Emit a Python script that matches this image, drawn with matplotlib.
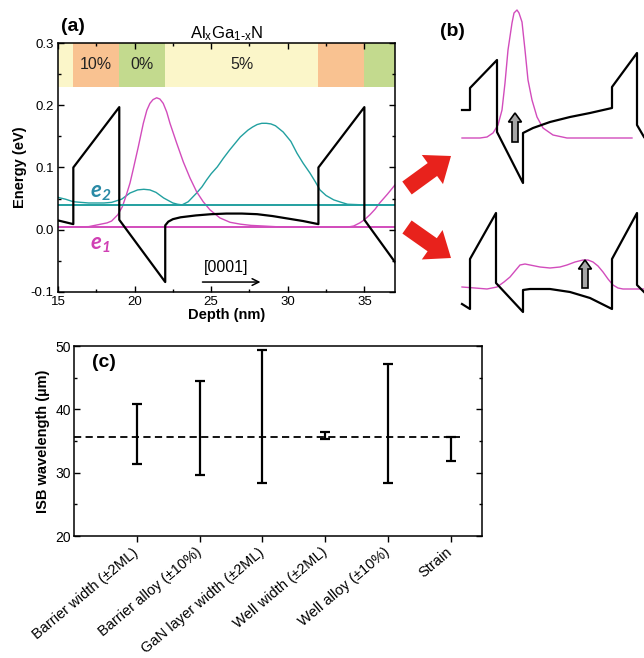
import matplotlib
matplotlib.use('Agg')
import matplotlib.pyplot as plt
from matplotlib.patches import FancyArrow
from matplotlib.ticker import MultipleLocator, FormatStrFormatter

plt.rcParams['font.family'] = ['Liberation Sans', 'DejaVu Sans']
plt.rcParams['axes.unicode_minus'] = False
plt.rcParams['mathtext.default'] = 'regular'
plt.rcParams['axes.linewidth'] = 1.1

# ---- panel (a): conduction band profile and wavefunctions ----
band_edges = [15, 16, 19, 22, 32, 35, 37]
band_colors = ['#fbf6c9', '#f9c291', '#c3da8e', '#fbf6c9', '#f9c291', '#c3da8e']
band_labels = ['', '10%', '0%', '5%', '', '']

cb_depth = [15.0, 16.0, 16.0, 19.0, 19.0, 22.0, 22.0, 22.2, 22.5, 23.0, 24.0, 25.0,
            26.0, 27.0, 28.0, 29.0, 30.0, 31.0, 32.0, 32.0, 35.0, 35.0, 37.0]
cb_energy = [0.015, 0.009, 0.100, 0.197, 0.016, -0.084, 0.007, 0.013, 0.017, 0.020,
             0.023, 0.025, 0.026, 0.026, 0.025, 0.022, 0.018, 0.014, 0.009, 0.100,
             0.197, 0.016, -0.052]

e1_level = 0.004
e2_level = 0.039

psi2_depth = [15.0, 15.5, 16.0, 17.0, 18.0, 18.5, 19.15, 19.7, 20.2, 20.6, 21.0, 21.4,
              21.9, 22.5, 22.8, 23.1, 23.5, 24.05, 24.4, 24.7, 25.0, 25.4, 25.8, 26.2,
              26.6, 26.9, 27.4, 27.7, 28.0, 28.3, 28.6, 28.9, 29.2, 29.5, 29.7, 30.0,
              30.2, 30.6, 31.0, 31.45, 31.8, 32.1, 32.5, 33.0, 33.5, 33.9, 34.9, 37.0]
psi2_energy = [0.052, 0.049, 0.045, 0.043, 0.043, 0.044, 0.049, 0.059, 0.064, 0.065,
               0.064, 0.060, 0.051, 0.043, 0.041, 0.040, 0.045, 0.059, 0.069, 0.080,
               0.090, 0.101, 0.115, 0.128, 0.140, 0.149, 0.160, 0.165, 0.169, 0.171,
               0.171, 0.170, 0.167, 0.161, 0.157, 0.148, 0.142, 0.123, 0.107, 0.091,
               0.077, 0.064, 0.055, 0.048, 0.044, 0.041, 0.040, 0.040]

psi1_depth = [15.0, 17.0, 17.6, 18.2, 18.5, 18.9, 19.2, 19.45, 19.7, 19.9, 20.24,
              20.57, 20.8, 21.0, 21.2, 21.44, 21.65, 21.87, 22.1, 22.31, 22.75, 23.18,
              23.62, 24.05, 24.48, 24.92, 25.57, 26.23, 26.9, 27.6, 28.4, 29.9, 33.85,
              34.3, 34.7, 35.0, 35.36, 35.7, 36.0, 36.5, 37.0]
psi1_energy = [0.004, 0.005, 0.008, 0.011, 0.014, 0.024, 0.037, 0.055, 0.075, 0.096,
               0.133, 0.171, 0.192, 0.203, 0.209, 0.212, 0.210, 0.203, 0.189, 0.171,
               0.139, 0.109, 0.083, 0.061, 0.045, 0.032, 0.019, 0.012, 0.009, 0.007,
               0.006, 0.004, 0.004, 0.006, 0.011, 0.016, 0.024, 0.033, 0.043, 0.057,
               0.072]

# ---- panel (b): schematic band diagrams (arbitrary units) ----
b_top_cb_x = [67, 75, 75, 102, 102, 128, 128, 138, 155, 175, 195, 217, 217, 242, 242, 249]
b_top_cb_y = [210, 210, 232, 260, 188, 137, 187, 192, 198, 203, 207, 212, 233, 267, 195, 183]
b_top_psi_x = [67, 85, 92, 98, 103, 107, 110, 113, 117, 119, 122, 124, 127, 130, 133,
               137, 142, 148, 158, 172, 237]
b_top_psi_y = [182, 182, 183, 187, 195, 210, 237, 270, 297, 307, 310, 307, 298, 270,
               240, 220, 203, 192, 185, 182, 182]

b_bot_cb_x = [67, 75, 75, 101, 101, 128, 128, 135, 155, 175, 195, 217, 217, 242, 242, 249]
b_bot_cb_y = [16, 11, 61, 107, 37, 8, 30, 31, 31, 28, 22, 11, 61, 107, 35, 28]
b_bot_psi_x = [67, 80, 92, 102, 109, 115, 120, 125, 130, 135, 145, 155, 165, 172, 180,
               188, 193, 198, 203, 208, 213, 218, 223, 228, 249]
b_bot_psi_y = [33, 32, 31, 33, 38, 43, 49, 55, 56, 55, 53, 52, 53, 55, 58, 60, 60, 58,
               54, 48, 41, 35, 32, 31, 31]

# transition arrows (x, y_start, y_end) and red pointers (tail, tip)
b_transitions = [(120, 178, 207), (190, 32, 60)]
b_pointers = [((12, 132), (56, 164)), ((12, 93), (56, 62))]

# ---- panel (c): ISB wavelength sensitivity ----
params = ['Barrier width (\u00b12ML)', 'Barrier alloy (\u00b110%)', 'GaN layer width (\u00b12ML)',
          'Well width (\u00b12ML)', 'Well alloy (\u00b110%)', 'Strain']
isb_nominal = 35.7
isb_upper = [40.8, 44.4, 49.3, 36.4, 47.1, 35.7]
isb_lower = [31.3, 29.7, 28.4, 35.3, 28.4, 31.8]

W, H = 644, 658
fig = plt.figure(figsize=(W / 100, H / 100), dpi=100)

teal = '#22a0a0'
magenta = '#d24cbc'

ax = fig.add_axes([58 / W, 1 - 292 / H, 337 / W, 249 / H])
for i in range(len(band_colors)):
    ax.fill_between([band_edges[i], band_edges[i + 1]], 0.23, 0.3,
                    color=band_colors[i], lw=0, zorder=0)
    if band_labels[i]:
        ax.text((band_edges[i] + band_edges[i + 1]) / 2, 0.265, band_labels[i],
                ha='center', va='center', fontsize=11.5, color='#222222')

ax.plot(psi2_depth, psi2_energy, color=teal, lw=1.0, zorder=2)
ax.plot(psi1_depth, psi1_energy, color=magenta, lw=1.0, zorder=2)
ax.axhline(e2_level, color=teal, lw=1.4, zorder=2)
ax.axhline(e1_level, color=magenta, lw=1.4, zorder=2)
ax.plot(cb_depth, cb_energy, color='black', lw=1.6, zorder=3)

ax.text(17.1, 0.060, 'e$_2$', color='#2a8aa6', fontsize=16, fontweight='bold',
        fontstyle='italic', family=['Lato', 'DejaVu Sans'], va='center')
ax.text(17.1, -0.024, 'e$_1$', color='#d040b4', fontsize=16, fontweight='bold',
        fontstyle='italic', family=['Lato', 'DejaVu Sans'], va='center')

ax.text(26.0, -0.061, '[0001]', ha='center', va='center', fontsize=11.5)
ax.annotate('', xy=(28.4, -0.084), xytext=(24.25, -0.084),
            arrowprops=dict(arrowstyle='->', lw=1.1, color='black', mutation_scale=12))

ax.set_xlim(15, 37)
ax.set_ylim(-0.1, 0.3)
ax.xaxis.set_major_locator(MultipleLocator(5))
ax.xaxis.set_minor_locator(MultipleLocator(2.5))
ax.yaxis.set_major_locator(MultipleLocator(0.1))
ax.yaxis.set_minor_locator(MultipleLocator(0.05))
ax.yaxis.set_major_formatter(FormatStrFormatter('%.1f'))
ax.tick_params(which='both', direction='in', top=True, right=True, labelsize=9.5, pad=3)
ax.tick_params(which='major', length=4, width=1)
ax.tick_params(which='minor', length=2.5, width=1)
ax.set_xlabel('Depth (nm)', fontweight='bold', fontsize=10.5, labelpad=0)
ax.set_ylabel('Energy (eV)', fontweight='bold', fontsize=10.5, labelpad=3)
ax.set_title(r'Al$_x$Ga$_{1\text{-}x}$N', fontsize=12, pad=3)

# panel (b) sketches
axb = fig.add_axes([395 / W, 1 - 320 / H, 249 / W, 320 / H])
axb.set_xlim(0, 249)
axb.set_ylim(0, 320)
axb.axis('off')
axb.patch.set_alpha(0)
axb.plot(b_top_psi_x, b_top_psi_y, color=magenta, lw=1.0, clip_on=False)
axb.plot(b_bot_psi_x, b_bot_psi_y, color=magenta, lw=1.0, clip_on=False)
axb.plot(b_top_cb_x, b_top_cb_y, color='black', lw=1.6, clip_on=False)
axb.plot(b_bot_cb_x, b_bot_cb_y, color='black', lw=1.6, clip_on=False)
for x, y0, y1 in b_transitions:
    axb.add_patch(FancyArrow(x, y0, 0, y1 - y0, width=6, head_width=13, head_length=9,
                             length_includes_head=True, fc='#a6a6a6', ec='black', lw=1.2,
                             zorder=4))
for (x0, y0), (x1, y1) in b_pointers:
    axb.add_patch(FancyArrow(x0, y0, x1 - x0, y1 - y0, width=16, head_width=36,
                             head_length=23, length_includes_head=True, fc='#e8221c',
                             ec='none', zorder=4, clip_on=False))

fig.text(61 / W, 1 - 18 / H, '(a)', fontsize=14, fontweight='bold', va='top')
fig.text(440 / W, 1 - 23 / H, '(b)', fontsize=14, fontweight='bold', va='top')

# panel (c)
axc = fig.add_axes([74 / W, 1 - 536 / H, 408 / W, 190 / H])
pos = list(range(1, len(params) + 1))
yerr = [[isb_nominal - v for v in isb_lower], [v - isb_nominal for v in isb_upper]]
axc.hlines(isb_nominal, 0, 6.15, colors='black', lw=1.3, linestyles=[(0, (4, 2.4))])
axc.errorbar(pos, [isb_nominal] * len(pos), yerr=yerr, fmt='none', ecolor='black',
             elinewidth=1.6, capsize=3.3, capthick=1.6, zorder=3)
axc.set_xlim(0, 6.5)
axc.set_ylim(20, 50)
axc.set_xticks(pos)
axc.set_xticklabels(params, rotation=40, ha='right', va='center', rotation_mode='anchor',
                    fontsize=10.5)
axc.yaxis.set_major_locator(MultipleLocator(10))
axc.yaxis.set_minor_locator(MultipleLocator(5))
axc.tick_params(axis='x', direction='out', length=4.5, width=1, pad=6)
axc.tick_params(axis='y', which='both', direction='in', right=True, labelsize=10, pad=2)
axc.tick_params(axis='y', which='major', length=4, width=1)
axc.tick_params(axis='y', which='minor', length=2.5, width=1)
axc.set_ylabel('ISB wavelength (\u00b5m)', fontweight='bold', fontsize=10.5, labelpad=4)
axc.text(0.045, 0.96, '(c)', transform=axc.transAxes, fontsize=14, fontweight='bold',
         va='top')

fig.savefig('out.png', dpi=100)
